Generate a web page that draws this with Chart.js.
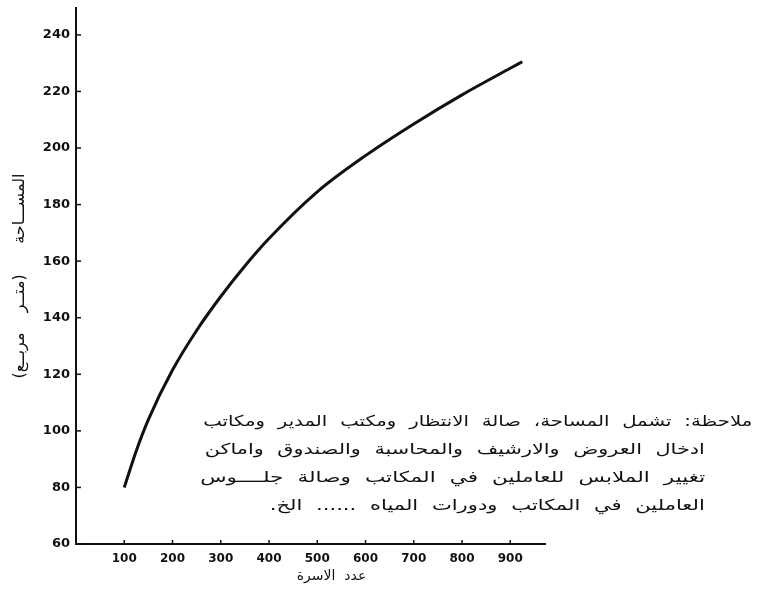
<!DOCTYPE html>
<html lang="ar">
<head>
<meta charset="utf-8">
<script src="https://cdn.jsdelivr.net/npm/chart.js@4.4.1/dist/chart.umd.min.js"></script>
<style>
  html, body { margin: 0; padding: 0; background: #fff; }
  .wrap { position: relative; width: 766px; height: 594px; }
  .note {
    position: absolute; right: 14px; top: 407px; width: 560px;
    direction: rtl;
    font-family: "DejaVu Sans", sans-serif; font-size: 15px; line-height: 28px; color: #111;
  }
  .note p { margin: 0; height: 28px; white-space: nowrap; }
  .note span { display: inline-block; word-spacing: 5px; transform-origin: right center; }
  .note .in { margin-right: 47px; }
</style>
</head>
<body>
<div class="wrap">
  <canvas id="chart" width="766" height="594"></canvas>
  <div class="note">
    <p><span data-w="549">ملاحظة: تشمل المساحة، صالة الانتظار ومكتب المدير ومكاتب</span></p>
    <p class="in"><span data-w="500">ادخال العروض والارشيف والمحاسبة والصندوق واماكن</span></p>
    <p class="in"><span data-w="505">تغيير الملابس للعاملين في المكاتب وصالة جلــــوس</span></p>
    <p class="in"><span data-w="435">العاملين في المكاتب ودورات المياه ...... الخ.</span></p>
  </div>
</div>
<script>
/* ================= DATA ================= */
const houses = [100, 125, 150, 200, 250, 300, 350, 400, 500, 600, 700, 800, 900, 925];
const area = [80, 93, 104, 121.5, 135.5, 147.5, 158.3, 168, 184.5, 197.3, 208.5, 218.8, 228.2, 230.5];
const xTicks = [100, 200, 300, 400, 500, 600, 700, 800, 900];
const yTicks = [60, 80, 100, 120, 140, 160, 180, 200, 220, 240];

const ink = "#111";

/* stretch each note line to the width it has in the scan */
document.querySelectorAll(".note span").forEach(sp => {
  const w = sp.getBoundingClientRect().width;
  sp.style.transform = `scaleX(${Number(sp.dataset.w) / w})`;
});

/* short tick marks drawn inside the axes, like the original */
const innerTicks = {
  id: "innerTicks",
  afterDatasetsDraw(chart) {
    const { ctx, scales: { x, y } } = chart;
    ctx.save();
    ctx.strokeStyle = ink;
    ctx.lineWidth = 1.5;
    yTicks.forEach(v => {
      const py = y.getPixelForValue(v);
      ctx.beginPath();
      ctx.moveTo(x.left, py);
      ctx.lineTo(x.left + 5, py);
      ctx.stroke();
    });
    xTicks.forEach(v => {
      const px = x.getPixelForValue(v);
      ctx.beginPath();
      ctx.moveTo(px, y.bottom);
      ctx.lineTo(px, y.bottom - 4);
      ctx.stroke();
    });
    ctx.restore();
  }
};

new Chart(document.getElementById("chart").getContext("2d"), {
  type: "line",
  data: {
    datasets: [{
      data: houses.map((h, i) => ({ x: h, y: area[i] })),
      borderColor: ink,
      borderWidth: 3,
      pointRadius: 0,
      fill: false,
      cubicInterpolationMode: "monotone"
    }]
  },
  options: {
    responsive: false,
    animation: false,
    layout: { padding: { left: 0, right: 221, top: 8, bottom: 4 } },
    plugins: { legend: { display: false }, tooltip: { enabled: false } },
    scales: {
      x: {
        type: "linear",
        min: 0,
        max: 972,
        afterFit: s => { s.height = 46; s.paddingLeft = 0; s.paddingRight = 0; },
        afterBuildTicks: s => { s.ticks = xTicks.map(v => ({ value: v })); },
        grid: { display: false, drawTicks: false },
        border: { color: ink, width: 2 },
        ticks: { color: ink, padding: 8, font: { family: "DejaVu Sans", size: 12, weight: "bold" } },
        title: {
          display: true,
          // leading em spaces nudge the title right, as in the scan
          text: "\u2003\u2003\u2003عدد  الاسرة",
          color: ink,
          padding: { top: 0, bottom: 5 },
          font: { family: "DejaVu Sans", size: 14 }
        }
      },
      y: {
        type: "linear",
        min: 60,
        max: 249.5,
        afterFit: s => { s.width = 76; s.paddingTop = 0; s.paddingBottom = 0; },
        afterBuildTicks: s => { s.ticks = yTicks.map(v => ({ value: v })); },
        grid: { display: false, drawTicks: false },
        border: { color: ink, width: 2 },
        ticks: { color: ink, padding: 6, font: { family: "DejaVu Sans", size: 13, weight: "bold" } },
        title: {
          display: true,
          text: "المســـاحة      (متــر    مربــع)",
          color: ink,
          padding: { top: 10, bottom: 0 },
          font: { family: "DejaVu Sans", size: 16 }
        }
      }
    }
  },
  plugins: [innerTicks]
});
</script>
</body>
</html>
